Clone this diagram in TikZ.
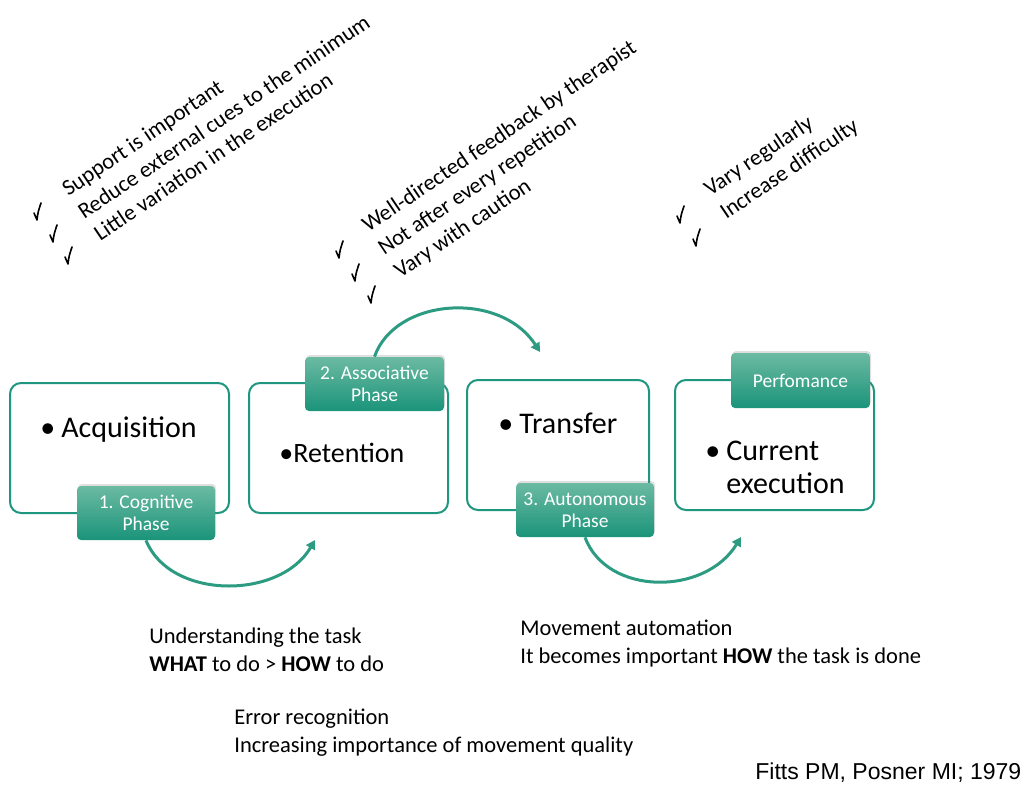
\documentclass[tikz,border=0pt]{standalone}
\usepackage{fontspec}
\setmainfont{Carlito}
\newfontfamily\citefont{Liberation Sans}
\usetikzlibrary{arrows.meta,shadows}

\definecolor{tealline}{RGB}{30,150,128}
\definecolor{tealtop}{RGB}{108,186,162}
\definecolor{tealbot}{RGB}{26,148,122}
\definecolor{arrowteal}{RGB}{45,155,130}

\tikzset{every picture/.style={line width=0.75pt}}
\tikzset{
	stagebox/.style={draw=tealline, line width=2pt, rounded corners=11pt, fill=white, inner sep=0pt, minimum height=130pt},
	phasetab/.style={rounded corners=4pt, top color=tealtop, bottom color=tealbot, text=white, align=center, inner sep=0pt,
		font=\fontsize{19.5}{22}\selectfont, minimum width=139pt, minimum height=54pt,
		drop shadow={opacity=0.25, shadow xshift=1pt, shadow yshift=2pt}},
	phasearrow/.style={draw=arrowteal, line width=3pt, -{Triangle[length=9pt,width=10pt]}},
	stagetext/.style={anchor=base west, inner sep=0pt, font=\fontsize{30}{33}\selectfont},
	note/.style={anchor=base west, inner sep=0pt, font=\fontsize{22.5}{27.5}\selectfont},
	tipnote/.style={note, rotate=34},
	checkmk/.pic={\draw[line width=1.6pt, line cap=round, line join=round] (-4,-1) -- (-1,-8) .. controls (0,0) .. (3,9);}
}

\begin{document}
\begin{tikzpicture}[x=1pt,y=1pt,yscale=-1,xscale=1]
	\useasboundingbox (0,0) rectangle (1030,789);

	% Stage boxes
	\node[stagebox, minimum width=219pt] (acqbox) at (119.5,448) {};
	\node[stagebox, minimum width=199pt] (retbox) at (348.5,448) {};
	\node[stagebox, minimum width=182pt] (trabox) at (558,445) {};
	\node[stagebox, minimum width=199pt] (curbox) at (774.5,445) {};

	% Stage texts
	\node[stagetext] (acq) at (40,437) {•\hspace{6pt}Acquisition};
	\node[stagetext, font=\fontsize{28}{32}\selectfont] (ret) at (279,462) {•Retention};
	\node[stagetext] (tra) at (498,433) {•\hspace{6pt}Transfer};
	\node[stagetext] (cur) at (705,460) {•\hspace{6pt}Current};
	\node[stagetext] (exe) at (726,493) {execution};

	% Phase tabs
	\node[phasetab, minimum width=138pt] (cogtab) at (146,513) {1. Cognitive\\Phase};
	\node[phasetab] (asstab) at (374.5,384) {2. Associative\\Phase};
	\node[phasetab, minimum width=138pt] (auttab) at (585,510) {3. Autonomous\\Phase};
	\node[phasetab, minimum height=55pt] (pertab) at (800.5,380.5) {Perfomance};

	% Arrows
	\coordinate (cogend) at (315,540);
	\coordinate (assend) at (540,352);
	\coordinate (autend) at (741,537);
	\draw[phasearrow] (cogtab.south) .. controls (170,600) and (280,600) .. (cogend);
	\draw[phasearrow] (asstab.north) .. controls (395,298) and (500,290) .. (assend);
	\draw[phasearrow] (auttab.south) .. controls (607,596) and (705,596) .. (autend);

	% Cognitive tips
	\node[tipnote] (sup) at (68,197) {Support is important};
	\node[tipnote] (red) at (84,220) {Reduce external cues to the minimum};
	\node[tipnote] (lit) at (100,242) {Little variation in the execution};
	\pic at (38,212) {checkmk};
	\pic at (54,234) {checkmk};
	\pic at (69,256) {checkmk};

	% Associative tips
	\node[tipnote] (wel) at (368,233) {Well-directed feedback by therapist};
	\node[tipnote] (not) at (384,256) {Not after every repetition};
	\node[tipnote] (var) at (400,279) {Vary with caution};
	\pic at (340,250) {checkmk};
	\pic at (356,273) {checkmk};
	\pic at (372,295) {checkmk};

	% Autonomous tips
	\node[tipnote] (reg) at (710,197) {Vary regularly};
	\node[tipnote] (inc) at (726,220) {Increase difficulty};
	\pic at (681,215) {checkmk};
	\pic at (697,238) {checkmk};

	% Bottom notes
	\node[note] (und) at (149,643) {Understanding the task};
	\node[note] (wha) at (149,671) {\textbf{WHAT} to do > \textbf{HOW} to do};
	\node[note] (err) at (234,724) {Error recognition};
	\node[note] (qua) at (234,752) {Increasing importance of movement quality};
	\node[note] (mov) at (520,635) {Movement automation};
	\node[note] (how) at (520,663) {It becomes important \textbf{HOW} the task is done};

	% Source
	\node[anchor=base west, inner sep=0pt, font=\citefont\fontsize{23}{27}\selectfont] (src) at (755,779) {Fitts PM, Posner MI; 1979};
\end{tikzpicture}
\end{document}
